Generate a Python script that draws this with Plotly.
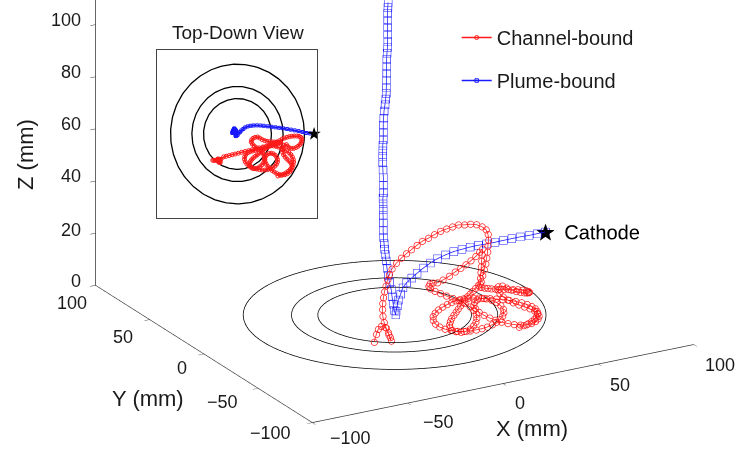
import numpy as np
import plotly.graph_objects as go

# ---------------- data (mm) ----------------
ring_radii = [35, 47, 69]
cathode = (79, 0, 20)

x_ticks = [-100, -50, 0, 50, 100]
y_ticks = [-100, -50, 0, 50, 100]
z_ticks = [0, 20, 40, 60, 80, 100]

# Plume-bound (blue) trajectory, (x, y, z) points
blue_descent = [(79, 0, 20), (75, 0.5, 19.8), (71, 1, 19.6), (67, 2, 19.4), (63, 2.8, 19.1), (59, 3.6, 18.8),
                (55, 4.3, 18.5), (51, 5, 18.3), (47, 5.6, 18.2), (43, 6.1, 18), (39, 6.6, 17.6), (35, 7.1, 17.2),
                (31, 7.6, 16.4), (27, 8.1, 15.4), (23.5, 8.4, 14.2), (20, 8.5, 12.8), (16.5, 8.4, 11.3),
                (13.5, 8.1, 10), (10.5, 7.5, 8.8), (8, 6.5, 7.5), (6, 5, 5.8), (4, 3.5, 4.2), (2.5, 2, 2.6),
                (1, 0.5, 1.2), (0, -1, 0.3)]
blue_column = [(-1.4, -2, 2.5), (-1.9, -2, 5), (-1.9, -1, 7.5), (-1.8, 0, 10), (-2.1, 1, 12.5), (-2.3, 2, 15),
               (-2.3, 3, 17.5), (-2.2, 4, 20), (-2.7, 4, 22.5), (-3.6, 3, 25), (-4.4, 2, 27.5), (-5.0, 1.5, 30),
               (-4.6, 2.5, 32.5), (-4.0, 3.5, 35), (-3.5, 4.5, 37.5), (-3.8, 4, 40), (-4.4, 3, 42.5), (-5.0, 2, 45),
               (-5.3, 1, 47.5), (-4.8, 2, 50), (-4.2, 3, 52.5), (-3.6, 4.5, 55), (-3.2, 5.5, 57.5), (-3.5, 5, 60),
               (-4.0, 4, 62.5), (-4.5, 3, 65), (-4.8, 2, 67.5), (-4.5, 2.5, 70), (-4.0, 3.5, 72.5), (-3.5, 4, 75),
               (-3.0, 4.5, 77.5), (-2.8, 4, 80), (-3.0, 3, 82.5), (-3.3, 2, 85), (-3.5, 1.5, 87.5), (-3.2, 2, 90),
               (-2.8, 2.5, 92.5), (-2.5, 3, 95), (-2.2, 3.5, 97.5), (-2.3, 3, 100), (-2.6, 2, 102.5),
               (-2.8, 1.5, 105), (-2.6, 2, 107.5), (-2.3, 2.5, 110), (-2.0, 3, 112.5), (-1.8, 3.5, 115),
               (-1.9, 3, 117.5), (-2.0, 2.5, 119.5)]

# Channel-bound (red) trajectory, (x, y, z) points
red_hook = [(-25.5, -26, 0.2), (-24.4, -26, 3), (-23.4, -26, 4.8), (-21.8, -26, 5.7), (-19.7, -26, 5.0),
            (-19.3, -28, 3.5), (-18.2, -28, 1.4), (-17.7, -28, 0), (-18.4, -27, 2.2), (-19.2, -26, 4.7),
            (-19.7, -25, 6.6), (-20.4, -25, 9.1), (-20.6, -25, 11.7), (-20.5, -25, 14), (-20.1, -25, 16.2),
            (-19.5, -25, 18.4), (-18.8, -25, 20.5), (-17.9, -25, 22.7), (-17.0, -25, 24.6)]
red_arc = [(-14.3, -22.6, 25.7), (-11.6, -22, 27.4), (-8.6, -21.3, 28.7), (-5.5, -20.5, 29.7), (-2.5, -19.8, 30.6),
           (0.9, -19, 31.6), (4.2, -18.1, 32.4), (7.9, -17.2, 32.8), (11.5, -16.4, 33.4), (15.2, -15.5, 33.9),
           (18.9, -14.6, 34), (22.5, -13.7, 34), (26.2, -12.8, 34), (29.9, -11.9, 33.2), (33.5, -11, 32.7),
           (37.2, -10.1, 31.7), (40.5, -9.3, 30.2), (43, -8.7, 28.5), (44.2, -8.4, 26.5), (44.5, -8.3, 24.2),
           (44.2, -8.3, 22), (44, -8.3, 19.7), (43.5, -8.3, 17.5), (43, -8.3, 15.3), (42.2, -8.3, 13.2),
           (41.4, -8.3, 11), (40.6, -8.3, 8.8)]
red_loop_a = [(38.5, -9.3, 8.0), (36.5, -10.3, 7.4), (34.5, -11.3, 6.9), (32.5, -12.3, 6.4), (30.5, -13.3, 5.9),
              (28.5, -14.6, 5.4), (26.5, -16, 4.9), (24.5, -17.5, 4.4), (22.5, -19, 3.9), (20.5, -20.5, 3.4),
              (18.5, -22, 2.9), (16.5, -23.5, 2.4), (14.8, -25.2, 1.8), (13.4, -27, 1.2), (12.5, -29, 0.8),
              (12.5, -31, 0.4), (13.5, -32.8, 0.2), (15.5, -34, 0), (18, -34.3, 0.1), (20.5, -33.7, 0.4),
              (23, -32.3, 0.9), (25.2, -30.5, 1.5), (26.8, -28.5, 2.2), (27.8, -26.2, 3), (28, -23.8, 3.8),
              (27.4, -21.4, 4.6), (26, -19, 5.5), (24, -17, 6.3), (21.8, -15.2, 7.1), (19.5, -13.5, 7.9),
              (17.3, -11.8, 8.7), (15.4, -10, 9.4), (14.2, -8, 10), (14.5, -6, 10.4), (16, -4.3, 10.6),
              (18.2, -3.3, 10.4), (20.7, -3, 10)]
red_climb = [(23, -4, 11), (25.5, -5.5, 12.5), (28, -6.5, 14), (30.5, -7.2, 15.2), (33, -7.6, 16.3),
             (35.5, -7.8, 17.5), (38, -7.9, 18.8), (40, -8, 20.2), (41.5, -8, 21.2), (41, -8.5, 19),
             (40.5, -9, 17), (40, -9.5, 15), (39.5, -10, 13), (39, -10.5, 11), (38.5, -11, 9), (39, -10, 7.5)]
red_loop_b = [(41, -8, 6.5), (43.5, -6.5, 5.5), (46, -5, 4.6), (48.5, -4, 3.8), (51, -3.2, 3.1), (53.5, -2.6, 2.5),
              (56, -2.2, 2), (58.5, -2, 1.5), (61, -2, 1.1), (63.3, -2.3, 0.8), (65.2, -3.2, 0.6),
              (66.3, -4.8, 0.6), (66.4, -6.8, 0.8), (65.6, -8.8, 1.2), (64.2, -10.6, 1.7), (62.4, -12.2, 2.3),
              (60.3, -13.4, 3), (58, -14.2, 3.7), (55.7, -14.3, 4.4), (53.5, -13.6, 5.1), (51.7, -12.2, 5.8),
              (50.5, -10.5, 6.3), (48, -11, 6.5), (46.8, -13, 6), (46.3, -15.5, 5.4), (46.6, -18, 4.7),
              (47.6, -20.5, 4), (49.2, -22.8, 3.3), (51, -24.8, 2.7), (53, -26.5, 2.1), (54.8, -28.3, 1.6),
              (56, -30.5, 1.2), (56.3, -33, 0.8), (55.5, -35.4, 0.5), (53.8, -37.5, 0.3), (51.5, -39.2, 0.1),
              (48.8, -40.3, 0), (46, -40.6, 0), (43.2, -40, 0.2), (40.5, -39, 0.5), (38, -37.6, 0.9),
              (35.6, -36, 1.4), (33.4, -34.2, 2), (31.5, -32.2, 2.6), (29.8, -30, 3.3), (28.6, -27.6, 4),
              (28.2, -25, 4.7), (28.7, -22.5, 5.3), (30.2, -20.5, 5.8), (32.3, -19.3, 6.1), (34.7, -19, 6.1),
              (37, -19.6, 5.8), (39, -21, 5.3), (40.5, -22.9, 4.7), (41.3, -25.2, 4), (41.2, -27.6, 3.3),
              (40.2, -29.9, 2.7), (38.5, -31.8, 2.1), (36.3, -33.3, 1.6), (33.8, -34.4, 1.2), (31.1, -35.2, 0.8),
              (28.3, -35.6, 0.5), (25.5, -35.6, 0.3), (22.7, -35.2, 0.1), (19.9, -34.6, 0), (17.1, -33.8, 0),
              (14.4, -32.8, 0.2), (11.8, -31.4, 0.5), (9.6, -29.6, 0.9), (8, -27.4, 1.4), (7.2, -25, 2),
              (7.4, -22.5, 2.7), (8.6, -20.3, 3.4), (10.6, -18.6, 4), (13, -17.5, 4.6), (15.6, -16.8, 5.1),
              (18.3, -16.2, 5.5), (21, -15.5, 5.7), (23.7, -14.6, 5.7), (26.4, -13.6, 5.5), (29.1, -12.7, 5.2),
              (31.8, -12, 4.8), (34.5, -11.7, 4.4), (37.2, -11.8, 4), (39.9, -12.3, 3.6), (42.6, -13, 3.3),
              (45.3, -14, 3), (48, -15.2, 2.7), (50.6, -16.6, 2.4), (53, -18.3, 2.1), (55, -20.3, 1.8),
              (56.6, -22.6, 1.5), (57.6, -25.1, 1.2), (57.9, -27.7, 1), (57.4, -30.3, 0.8), (56.2, -32.8, 0.6),
              (54.4, -35, 0.4), (52.2, -36.9, 0.2), (49.8, -38.5, 0.1), (47.2, -39.8, 0), (44.5, -40.8, 0),
              (41.7, -41.5, 0)]

blue_pts = blue_descent + blue_column
red_pts = red_hook + red_arc + red_loop_a + red_climb + red_loop_b
blue_x, blue_y, blue_z = [list(v) for v in zip(*blue_pts)]
red_x, red_y, red_z = [list(v) for v in zip(*red_pts)]

RED = "#ff1a1a"
BLUE = "#1a1aff"
FONT = "Liberation Sans, Arial, sans-serif"
INK = "#1a1a1a"


def tick_label(v):
    return ("\u2212%d" % -v) if v < 0 else "%d" % v


fig = go.Figure()

# ---------------- 3D view ----------------
theta = np.linspace(0, 2 * np.pi, 241)
for r in ring_radii:
    fig.add_trace(go.Scatter3d(x=r * np.cos(theta), y=r * np.sin(theta), z=np.zeros_like(theta),
                               mode="lines", line=dict(color="black", width=1.5),
                               showlegend=False, hoverinfo="skip"))

fig.add_trace(go.Scatter3d(x=red_x, y=red_y, z=red_z, mode="lines+markers", name="Channel-bound",
                           legendgroup="a",
                           line=dict(color=RED, width=1.5),
                           marker=dict(symbol="circle-open", size=4, color=RED)))
fig.add_trace(go.Scatter3d(x=blue_x, y=blue_y, z=blue_z, mode="lines+markers", name="Plume-bound",
                           legendgroup="b",
                           line=dict(color=BLUE, width=1.5),
                           marker=dict(symbol="square-open", size=3.5, color=BLUE)))
fig.add_trace(go.Scatter3d(x=[cathode[0]], y=[cathode[1]], z=[cathode[2]], mode="text", text=["\u2605"],
                           textposition="middle center",
                           textfont=dict(size=24, color="black", family="DejaVu Sans"),
                           showlegend=False, hoverinfo="skip"))
fig.add_trace(go.Scatter3d(x=[cathode[0]], y=[cathode[1]], z=[cathode[2]], mode="text", text=["Cathode"],
                           textposition="middle right",
                           textfont=dict(size=20, color="black", family=FONT),
                           showlegend=False, hoverinfo="skip"))

# ---------------- top-down inset ----------------
for r in ring_radii:
    fig.add_trace(go.Scatter(x=r * np.cos(theta), y=r * np.sin(theta), mode="lines",
                             line=dict(color="black", width=1.3), showlegend=False, hoverinfo="skip"))
fig.add_trace(go.Scatter(x=red_x, y=red_y, mode="lines+markers", showlegend=False,
                         line=dict(color=RED, width=1.5),
                         marker=dict(symbol="circle-open", size=4, color=RED)))
fig.add_trace(go.Scatter(x=blue_x, y=blue_y, mode="lines+markers", showlegend=False,
                         line=dict(color=BLUE, width=1.5),
                         marker=dict(symbol="square-open", size=3, color=BLUE)))
fig.add_trace(go.Scatter(x=[cathode[0]], y=[cathode[1]], mode="markers", showlegend=False,
                         marker=dict(symbol="star", size=10, color="black"), cliponaxis=False))

axis3d = dict(showgrid=False, zeroline=False, showbackground=False, showline=True,
              linecolor="#333", linewidth=1.5, ticks="outside", tickcolor="#333", ticklen=6,
              showspikes=False, title=dict(text=""), showticklabels=False)

cam_center = dict(x=-0.0971, y=0.055, z=-0.3166)
cam_eye = dict(x=-0.0971 - 1.1525, y=0.055 - 2.0275, z=-0.3166 + 0.9)

# tick-label placement (paper pixels) beside the 3D axes, as in the original figure
x_label_px = [(350, 438), (438, 422), (520, 403), (620, 385), (720, 365)]
y_label_px = [(270, 433), (223, 402), (182, 368), (123, 337), (72, 303)]
z_label_px = [(83, 281), (83, 230), (83, 176), (83, 124), (83, 72), (83, 20)]

annotations = [
    dict(text="Top-Down View", x=238 / 739, y=1 - 32 / 450, xanchor="center", yanchor="middle",
         font=dict(size=19)),
    dict(text="X (mm)", x=532 / 739, y=1 - 428 / 450, xanchor="center", yanchor="middle", font=dict(size=22)),
    dict(text="Y (mm)", x=148 / 739, y=1 - 398 / 450, xanchor="center", yanchor="middle", font=dict(size=22)),
    dict(text="Z (mm)", x=25 / 739, y=1 - 155 / 450, xanchor="center", yanchor="middle", textangle=-90,
         font=dict(size=22)),
]
for v, (px, py) in zip(x_ticks, x_label_px):
    annotations.append(dict(text=tick_label(v), x=px / 739, y=1 - py / 450, xanchor="center",
                            yanchor="middle", font=dict(size=18)))
for v, (px, py) in zip(y_ticks, y_label_px):
    annotations.append(dict(text=tick_label(v), x=px / 739, y=1 - py / 450, xanchor="center",
                            yanchor="middle", font=dict(size=18)))
for v, (px, py) in zip(z_ticks, z_label_px):
    annotations.append(dict(text=tick_label(v), x=px / 739, y=1 - py / 450, xanchor="right",
                            yanchor="middle", font=dict(size=18)))
for a in annotations:
    a.update(xref="paper", yref="paper", showarrow=False)
    a["font"].update(family=FONT, color=INK)

fig.update_layout(
    width=739, height=450,
    margin=dict(l=0, r=0, t=0, b=0),
    paper_bgcolor="white", plot_bgcolor="white",
    font=dict(family=FONT, size=18, color=INK),
    showlegend=True,
    legend=dict(x=0.618, y=0.96, xanchor="left", yanchor="top", bgcolor="rgba(0,0,0,0)",
                font=dict(size=20, family=FONT, color=INK), tracegroupgap=14,
                traceorder="grouped"),
    scene=dict(
        domain=dict(x=[0, 1], y=[0, 1]),
        xaxis=dict(axis3d, range=[-100, 100], tickvals=x_ticks),
        yaxis=dict(axis3d, range=[-100, 100], tickvals=y_ticks),
        zaxis=dict(axis3d, range=[0, 120], tickvals=z_ticks),
        aspectmode="manual", aspectratio=dict(x=1.95, y=1.95, z=1.49),
        camera=dict(eye=cam_eye, center=cam_center,
                    projection=dict(type="orthographic")),
        bgcolor="rgba(0,0,0,0)",
    ),
    xaxis=dict(domain=[157 / 739, 317 / 739], range=[-83, 82], showticklabels=False, ticks="",
               showgrid=False, zeroline=False, showline=True, mirror=True, linecolor="#444", linewidth=1),
    yaxis=dict(domain=[1 - 218 / 450, 1 - 50 / 450], range=[-83, 83], showticklabels=False, ticks="",
               showgrid=False, zeroline=False, showline=True, mirror=True, linecolor="#444", linewidth=1),
    annotations=annotations,
)

fig.write_html("out.html", config={"displayModeBar": False},
               post_script="document.body.style.margin='0';")
